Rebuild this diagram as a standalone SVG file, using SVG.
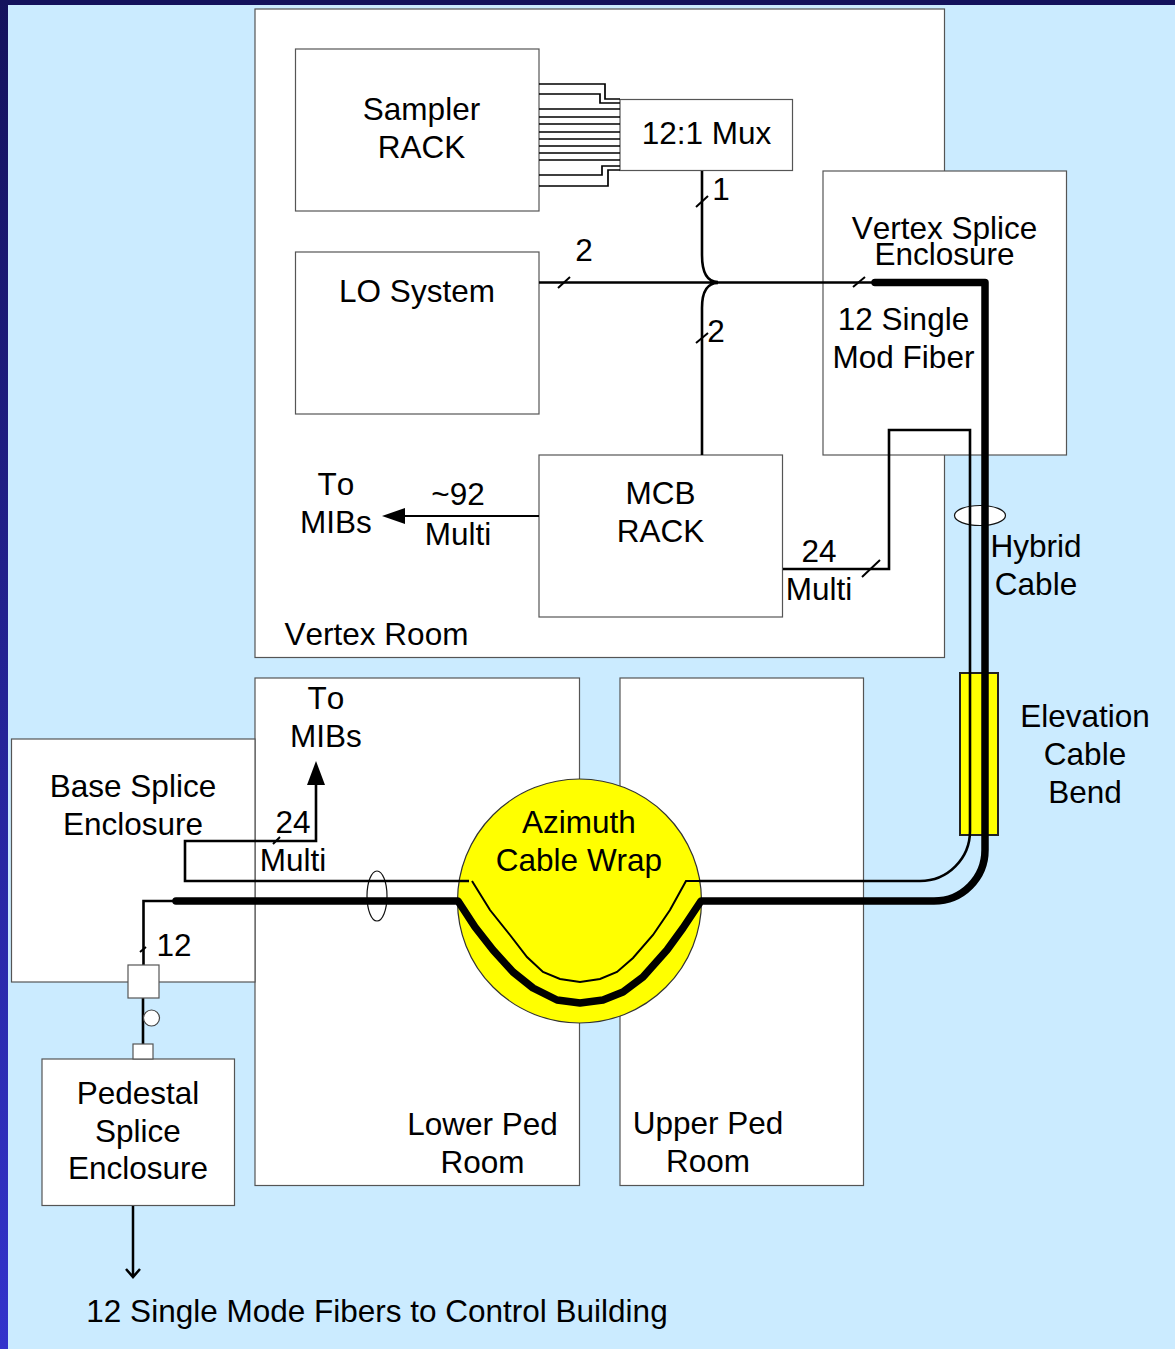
<svg xmlns="http://www.w3.org/2000/svg" width="1175" height="1349" viewBox="0 0 1175 1349">
<defs>
<linearGradient id="bar" x1="0" y1="0" x2="0" y2="1"><stop offset="0" stop-color="#14125c"/><stop offset="1" stop-color="#3333cc"/></linearGradient>
</defs>
<style>
text{font-family:"Liberation Sans",Arial,sans-serif;font-size:31.5px;fill:#000;text-anchor:middle;font-kerning:none}
.box{fill:#fff;stroke:#555;stroke-width:1.2}
.k{fill:none;stroke:#000;stroke-width:2.6}
.f{fill:none;stroke:#000;stroke-width:1.7}
.t{fill:none;stroke:#000;stroke-width:2}
.h{fill:none;stroke:#000;stroke-width:7.500;stroke-linecap:round;stroke-linejoin:round}
.y{fill:#ff0;stroke:#222;stroke-width:2}
</style>
<rect width="1175" height="1349" fill="#cbebff"/>
<rect width="1175" height="5" fill="#14125c"/>
<rect width="8" height="1349" fill="url(#bar)"/>

<g id="vertex-room"><rect class="box" x="255" y="9" width="689.500" height="648.500"/><text x="376.500" y="645">Vertex Room</text></g>
<g id="lower-ped-room"><rect class="box" x="255" y="678" width="324.500" height="507.500"/><text x="482.500" y="1135">Lower Ped</text><text x="482.500" y="1173">Room</text></g>
<g id="upper-ped-room"><rect class="box" x="620" y="678" width="243.500" height="507.500"/><text x="708" y="1134">Upper Ped</text><text x="708" y="1172">Room</text></g>
<g id="sampler-rack"><rect class="box" x="295.500" y="49" width="243.500" height="162"/><text x="421.500" y="120">Sampler</text><text x="421.500" y="158">RACK</text></g>
<g id="mux"><rect class="box" x="620" y="99.500" width="172.500" height="71"/><text x="706.500" y="144">12:1 Mux</text></g>
<g id="lo-system"><rect class="box" x="295.500" y="252" width="243.500" height="162"/><text x="417" y="302">LO System</text></g>
<g id="mcb-rack"><rect class="box" x="539" y="455" width="243.500" height="162"/><text x="660.500" y="504">MCB</text><text x="660.500" y="542">RACK</text></g>
<g id="vertex-splice"><rect class="box" x="823" y="171" width="243.500" height="284"/><text x="944.500" y="239">Vertex Splice</text><text x="944.500" y="265">Enclosure</text><text x="903.500" y="330">12 Single</text><text x="903.500" y="368">Mod Fiber</text></g>
<g id="base-splice"><rect class="box" x="11.500" y="739" width="243.500" height="243"/><text x="133" y="797">Base Splice</text><text x="133" y="835">Enclosure</text></g>
<g id="pedestal-splice"><rect class="box" x="42" y="1059" width="192.500" height="146.500"/><text x="138" y="1104">Pedestal</text><text x="138" y="1142">Splice</text><text x="138" y="1179">Enclosure</text></g>
<g id="elevation-bend"><rect class="y" x="960" y="673" width="38" height="162"/></g>
<g id="azimuth-wrap"><circle cx="579.500" cy="901" r="122" fill="#ff0" stroke="#333" stroke-width="1.200"/><text x="579" y="833">Azimuth</text><text x="579" y="871">Cable Wrap</text></g>

<g id="connectors">
<ellipse cx="980" cy="515.500" rx="25.500" ry="10" fill="#fff" stroke="#111" stroke-width="1.200"/>
<ellipse cx="377" cy="896" rx="10" ry="25" fill="#fff" stroke="#111" stroke-width="1.200"/>
<path class="f" d="M539 84H605V99H620M539 94H600V103H620M539 109H620M539 117H620M539 124H620M539 132H620M539 139H620M539 146H620M539 153H620M539 160H620M539 175H602V166H620M539 186H608V170H620"/>
<path class="k" d="M702 171V255Q702 282 718 282M702 455V308Q702 283 718 283M539 282.500H873"/>
<path class="t" d="M696 207L708 196M558 288L570 277M696 343L708 333M853 287L865 277M862 577L880 560M273 844L280 837M140 952L146 947"/>
<path class="h" d="M875 282.500H985V850A51 51 0 0 1 934 901H701L683 928 667 950 643 977 623 992 603 1000 580 1003 557 1000 533 988 513 972 493 950 475 927 458 901H176"/>
<path class="k" d="M176 901H143.500V965"/>
<path class="k" d="M143 998V1044"/>
<path class="k" d="M783 569H889V430H970V831A50 50 0 0 1 920 881H699"/>
<path class="t" d="M699 881H686L670 910 653 935 633 958 617 972 600 979 580 982 560 979 543 972 527 957 510 935 490 910 472 881"/>
<path class="k" d="M469 881H185V841H316V785"/>
<path d="M316 761L307 785H325Z"/>
<path d="M539 516H404" stroke="#000" stroke-width="2"/>
<path d="M382 516L405 508V524Z"/>
<path d="M133 1206V1276M126 1269L133 1277L140 1269" fill="none" stroke="#000" stroke-width="2.500"/>
<rect class="box" x="128" y="965" width="31" height="33"/>
<rect class="box" x="133" y="1044" width="20" height="15"/>
<circle cx="151.500" cy="1018" r="8" fill="#fff" stroke="#444" stroke-width="1.200"/>
</g>

<g id="labels">
<text x="721" y="200">1</text><text x="584" y="261">2</text><text x="716" y="342">2</text>
<text x="336" y="495">To</text><text x="336" y="533">MIBs</text>
<text x="458" y="505">~92</text><text x="458" y="545">Multi</text>
<text x="819" y="562">24</text><text x="819" y="600">Multi</text>
<text x="1036" y="557">Hybrid</text><text x="1036" y="595">Cable</text>
<text x="1085" y="727">Elevation</text><text x="1085" y="765">Cable</text><text x="1085" y="803">Bend</text>
<text x="326" y="709">To</text><text x="326" y="747">MIBs</text>
<text x="293" y="833">24</text><text x="293" y="871">Multi</text>
<text x="174" y="956">12</text>
<text x="377" y="1322">12 Single Mode Fibers to Control Building</text>
</g>
</svg>
